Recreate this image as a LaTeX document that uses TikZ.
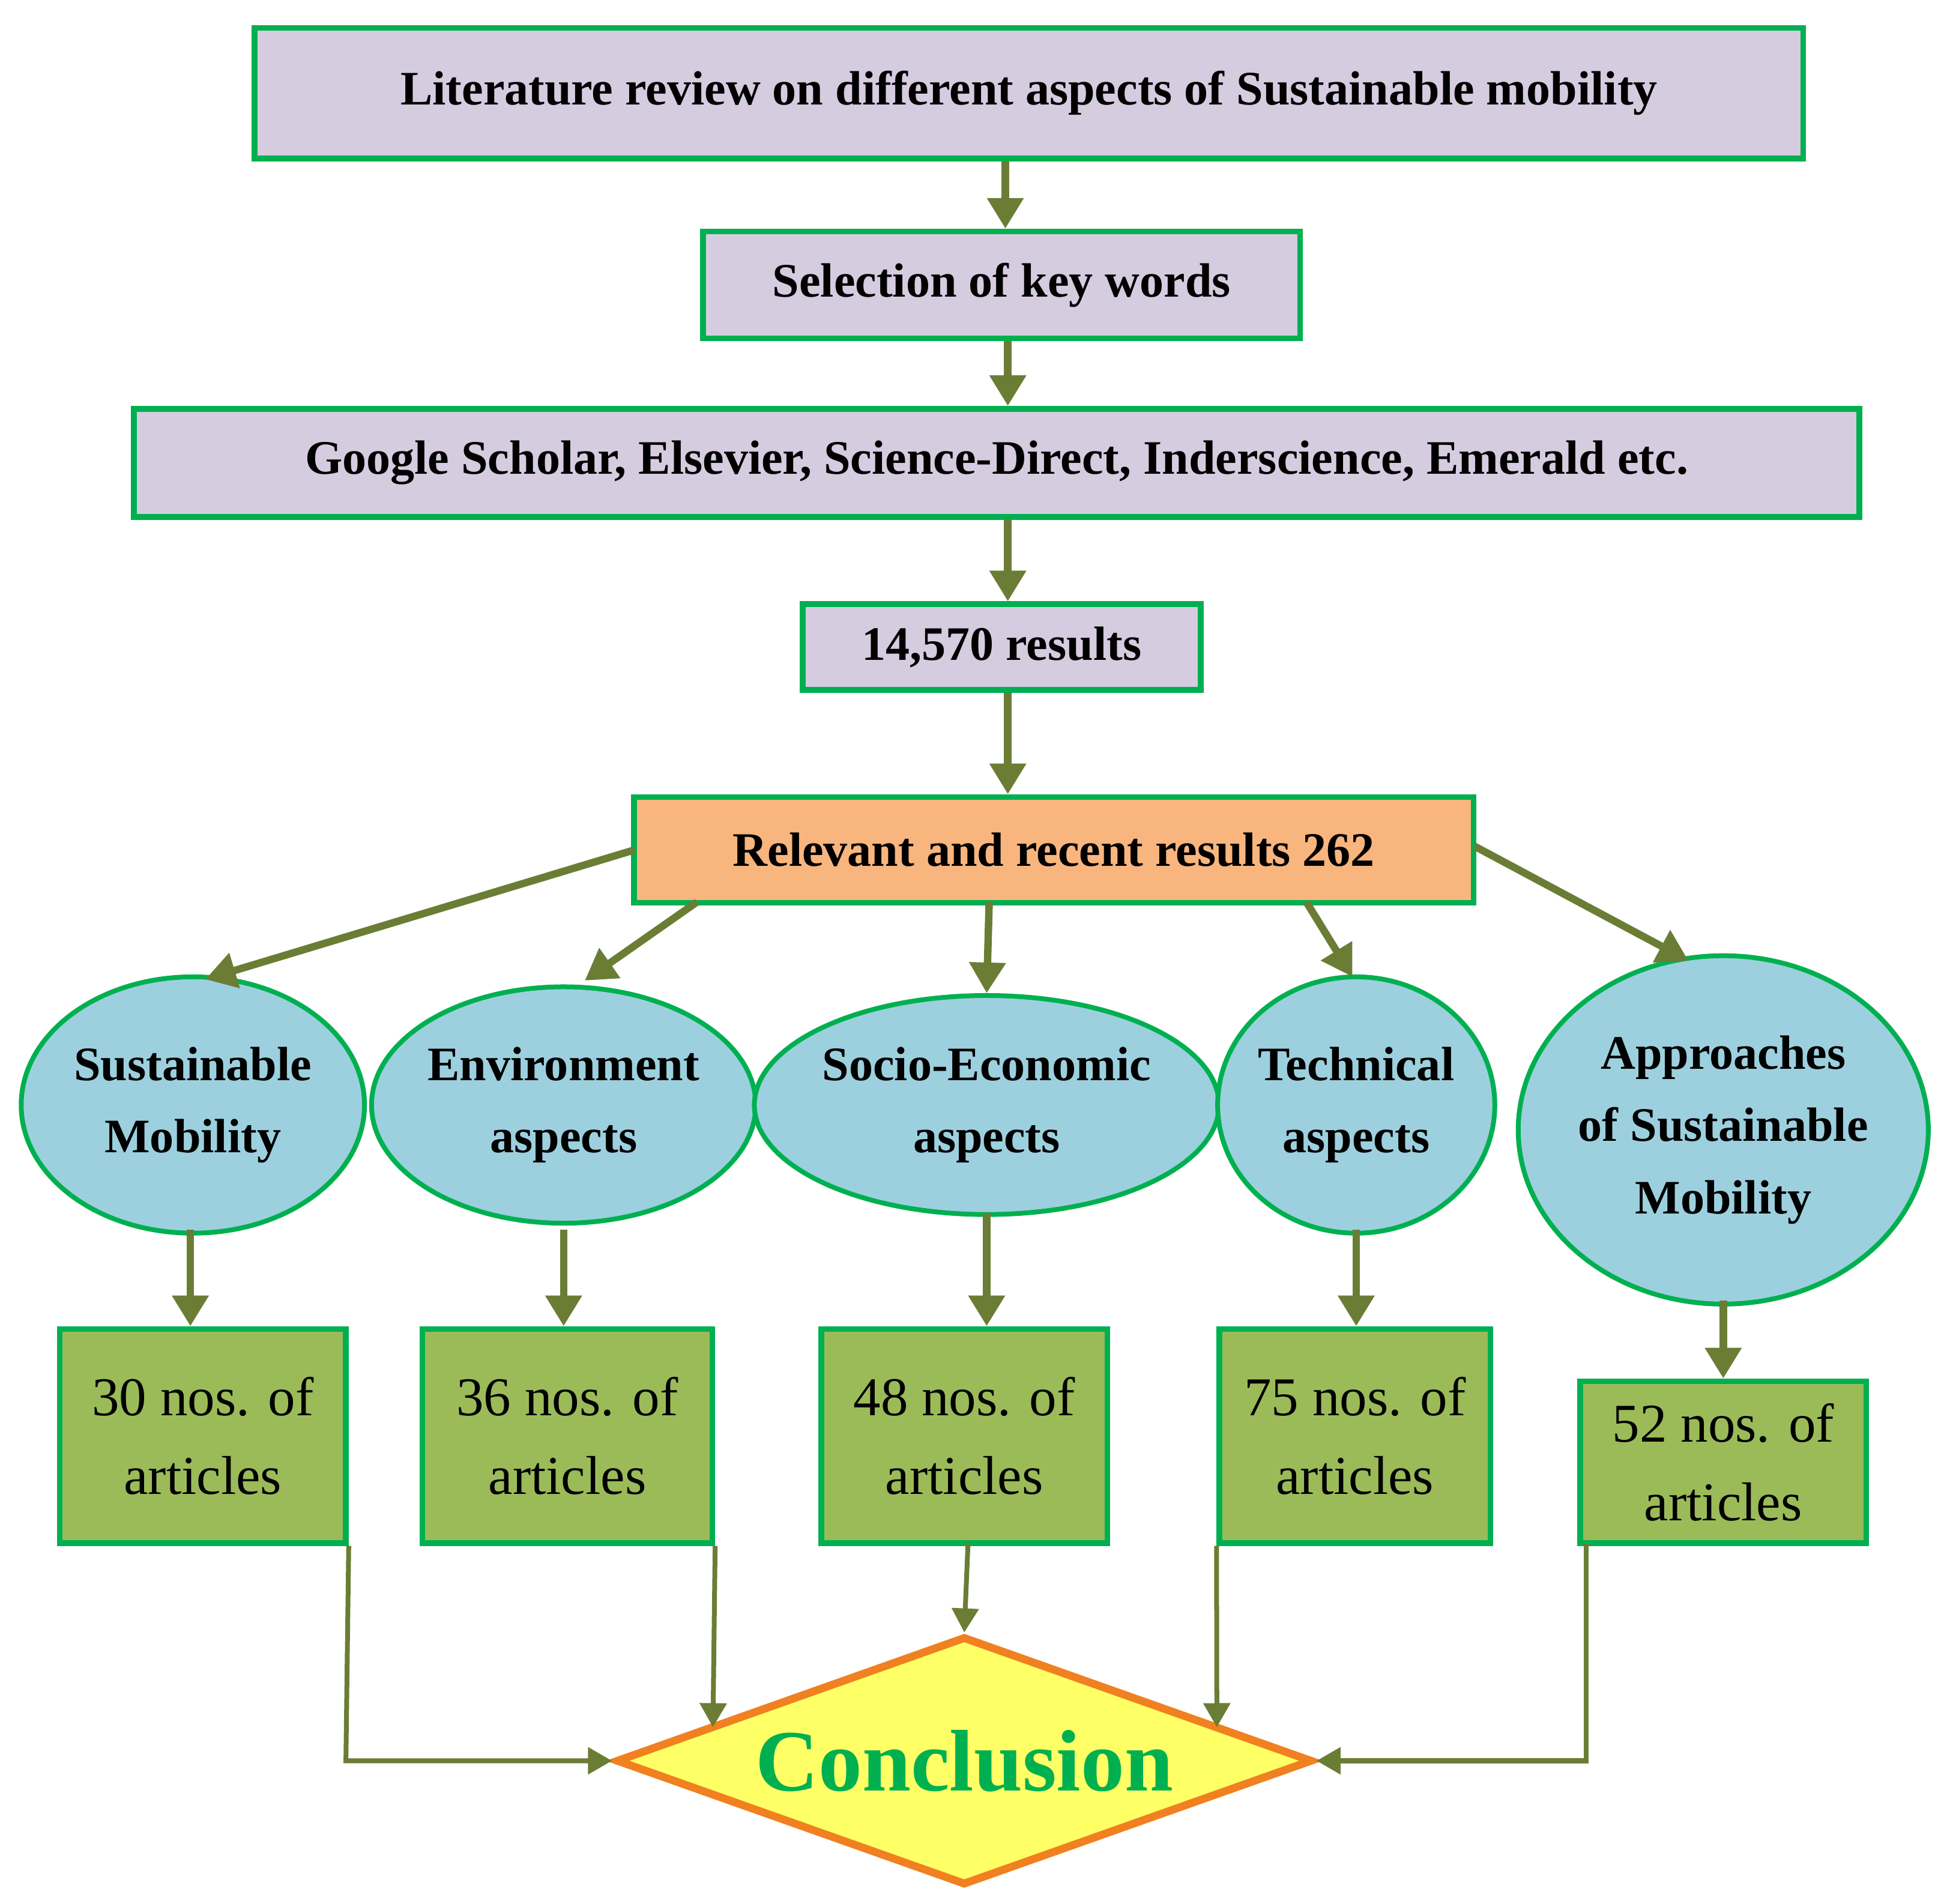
\documentclass[tikz,border=0pt]{standalone}
\usepackage{fontspec}
\setmainfont{Liberation Serif}
\usetikzlibrary{shapes.geometric,arrows.meta}
\definecolor{lav}{HTML}{D5CCE0}
\definecolor{gb}{HTML}{00B050}
\definecolor{org}{HTML}{F8B57E}
\definecolor{cy}{HTML}{9DD0DE}
\definecolor{olv}{HTML}{9BBB59}
\definecolor{arr}{HTML}{6B7D35}
\definecolor{dorg}{HTML}{F08020}
\definecolor{yl}{HTML}{FFFF66}
\tikzset{
 tb/.style={draw=gb,line width=2.6pt,fill=lav,font=\fontsize{22}{26}\selectfont\bfseries,inner sep=0pt},
 el/.style={draw=gb,line width=2.2pt,fill=cy,ellipse,inner sep=0pt,font=\fontsize{22}{33}\selectfont\bfseries,align=center},
 gbox/.style={draw=gb,line width=2.6pt,fill=olv,inner sep=0pt,font=\fontsize{25}{36}\selectfont,align=center},
 ar/.style={draw=arr,line width=3.4pt,-{Triangle[length=14pt,width=16pt]}},
 ar2/.style={draw=arr,line width=2.2pt,-{Triangle[length=11pt,width=12pt]}}
}
\begin{document}
\begin{tikzpicture}[x=0.02cm,y=-0.02cm]
\useasboundingbox (0,0) rectangle (1560,1530);
\node[tb,minimum width=1245\pgflinewidth/2.6pt*0.02cm/1pt*0pt+24.9cm,minimum height=2.1cm] (b1) at (827,75) {Literature review on different aspects of Sustainable mobility};
\node[tb,minimum width=9.6cm,minimum height=1.72cm] (b2) at (805,229) {Selection of key words};
\node[tb,minimum width=27.74cm,minimum height=1.74cm] (b3) at (801,372) {Google Scholar, Elsevier, Science-Direct, Inderscience, Emerald etc.};
\node[tb,minimum width=6.4cm,minimum height=1.38cm] (b4) at (805,520) {14,570 results};
\node[tb,fill=org,minimum width=13.5cm,minimum height=1.7cm] (b5) at (847,683) {Relevant and recent results 262};
\node[el,minimum width=5.52cm,minimum height=4.12cm] (e1) at (155,888) {Sustainable\\Mobility};
\node[el,minimum width=5.92cm,minimum height=3.8cm] (e2) at (453,888) {Environment\\aspects};
\node[el,minimum width=6.8cm,minimum height=3.52cm] (e3) at (793,888) {Socio-Economic\\aspects};
\node[el,minimum width=4.2cm,minimum height=4.12cm] (e4) at (1090,888) {Technical\\aspects};
\node[el,minimum width=6.48cm,minimum height=5.6cm] (e5) at (1385,908) {Approaches\\of Sustainable\\Mobility};
\node[gbox,minimum width=4.6cm,minimum height=3.44cm] (g1) at (163,1154) {30 nos. of\\articles};
\node[gbox,minimum width=4.66cm,minimum height=3.44cm] (g2) at (456,1154) {36 nos. of\\articles};
\node[gbox,minimum width=4.6cm,minimum height=3.44cm] (g3) at (775,1154) {48 nos. of\\articles};
\node[gbox,minimum width=4.36cm,minimum height=3.44cm] (g4) at (1089,1154) {75 nos. of\\articles};
\node[gbox,minimum width=4.6cm,minimum height=2.6cm] (g5) at (1385,1175) {52 nos. of\\articles};
\node[draw=dorg,line width=3.6pt,fill=yl,diamond,aspect=2.8,minimum width=11.2cm,minimum height=4cm,inner sep=0pt,text=gb,font=\fontsize{40}{44}\selectfont\bfseries] (d) at (775,1415) {Conclusion};
\draw[ar] (b1.south -| 808,0) -- (b2.north -| 808,0);
\draw[ar] (b2.south -| 810,0) -- (b3.north -| 810,0);
\draw[ar] (b3.south -| 810,0) -- (b4.north -| 810,0);
\draw[ar] (b4.south -| 810,0) -- (b5.north -| 810,0);
\coordinate (o1) at (510,683); \coordinate (o2) at (560,725); \coordinate (o3) at (795,725);
\coordinate (o4) at (1050,725); \coordinate (o5) at (1185,680);
\draw[ar] (o1) -- (165,787);
\draw[ar] (o2) -- (470,788);
\draw[ar] (o3) -- (e3.north);
\draw[ar] (o4) -- (1087,785);
\draw[ar] (o5) -- (1357,772);
\draw[ar] (153,988) -- (g1.north -| 153,0);
\draw[ar] (453,988) -- (g2.north -| 453,0);
\draw[ar] (793,975) -- (g3.north -| 793,0);
\draw[ar] (1090,988) -- (g4.north -| 1090,0);
\draw[ar] (1385,1045) -- (g5.north -| 1385,0);
\draw[ar2] (g1.south east) -- (278,1415) -- (d.west);
\draw[ar2] (g2.south east) -- (573,1388);
\draw[ar2] (778,1240) -- (d.north);
\draw[ar2] (g4.south west) -- (978,1388);
\draw[ar2] (1275,1240) -- (1275,1415) -- (d.east);
\end{tikzpicture}
\end{document}
